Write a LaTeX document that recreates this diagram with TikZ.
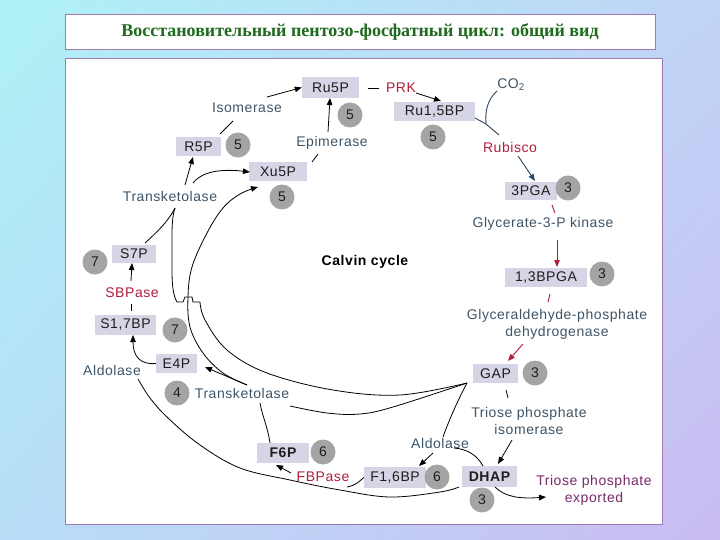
\documentclass[tikz,border=0pt]{standalone}
\usepackage{fontspec}
\setmainfont{Liberation Sans}
\newfontfamily\lbl[LetterSpace=4]{Liberation Sans}
\newfontfamily\ttlfont{Liberation Serif}
\usetikzlibrary{arrows.meta,shadings}
\definecolor{slate}{HTML}{3E5568}
\definecolor{enzred}{HTML}{B01E3C}
\definecolor{exppurple}{HTML}{7A2A6A}
\definecolor{boxc}{HTML}{D5D5E5}
\definecolor{circc}{HTML}{A4A4A4}
\definecolor{metc}{HTML}{1E1E1E}
\definecolor{ttlgreen}{HTML}{1E6B1E}
\definecolor{frame}{HTML}{A07AB0}
\definecolor{bgul}{HTML}{AEF2F6}
\definecolor{bgur}{HTML}{C0D4F6}
\definecolor{bgll}{HTML}{B8DEF8}
\definecolor{bglr}{HTML}{CABCF2}
\definecolor{rubc}{HTML}{2D4860}
\tikzset{
  lblfont/.style={font=\lbl\fontsize{14}{17}\selectfont},
  met/.style={lblfont, fill=boxc, inner sep=0pt, text=metc},
  num/.style={lblfont, circle, fill=circc, minimum size=25pt, inner sep=0pt, text=metc},
  enz/.style={lblfont, text=slate, inner sep=0pt, align=center},
  enzr/.style={lblfont, text=enzred, inner sep=0pt},
  con/.style={line width=0.8pt, black},
  arr/.style={con, -{Triangle[length=7pt,width=5.5pt]}},
  rarr/.style={line width=0.9pt, enzred, -{Triangle[length=7pt,width=5.5pt]}},
  rline/.style={line width=0.9pt, enzred},
}
\begin{document}
\begin{tikzpicture}[x=1pt,y=-1pt]
\useasboundingbox (0,0) rectangle (720,540);
\shade[upper left=bgul, upper right=bgur, lower left=bgll, lower right=bglr] (0,0) rectangle (720,540);
% frames
\draw[frame, fill=white, line width=0.8pt] (65,14) rectangle (655,49);
\node[font=\ttlfont\bfseries\fontsize{18}{21}\selectfont, text=ttlgreen] (title) at (360,32) {Восстановительный пентозо-фосфатный цикл: общий вид};
\draw[frame, fill=white, line width=0.8pt] (65,58) rectangle (662,524);

% metabolites
\node[met, minimum width=57pt, minimum height=21pt] (ru5p) at (330.5,87.5) {Ru5P};
\node[met, minimum width=81pt, minimum height=19pt] (rubp) at (434.5,111.5) {Ru1,5BP};
\node[met, minimum width=52pt, minimum height=18pt] (pga) at (531,191) {3PGA};
\node[met, minimum width=82pt, minimum height=19pt] (bpga) at (546,277.5) {1,3BPGA};
\node[met, minimum width=45pt, minimum height=19pt] (gap) at (495.5,373.5) {GAP};
\node[met, minimum width=55pt, minimum height=21pt, font=\lbl\bfseries\fontsize{14}{17}\selectfont] (dhap) at (489.5,476.5) {DHAP};
\node[met, minimum width=62pt, minimum height=21pt] (fbp) at (395,477.5) {F1,6BP};
\node[met, minimum width=52pt, minimum height=20pt, font=\lbl\bfseries\fontsize{14}{17}\selectfont] (f6p) at (283,453) {F6P};
\node[met, minimum width=41pt, minimum height=19pt] (e4p) at (176.5,363.5) {E4P};
\node[met, minimum width=61pt, minimum height=20pt] (sbp) at (125.5,325) {S1,7BP};
\node[met, minimum width=44pt, minimum height=18pt] (s7p) at (134,254) {S7P};
\node[met, minimum width=45pt, minimum height=19pt] (r5p) at (198.5,146.5) {R5P};
\node[met, minimum width=58pt, minimum height=19pt] (xu5p) at (278,171.5) {Xu5P};

% stoichiometry circles
\node[num] (n1) at (350,115) {5};
\node[num] (n2) at (433,137) {5};
\node[num] (n3) at (568,188) {3};
\node[num] (n4) at (602,274) {3};
\node[num] (n5) at (535,373) {3};
\node[num] (n6) at (482,500) {3};
\node[num] (n7) at (437,477) {6};
\node[num] (n8) at (323,452) {6};
\node[num] (n9) at (177,393) {4};
\node[num] (n10) at (175,330) {7};
\node[num] (n11) at (95,262) {7};
\node[num] (n12) at (238,145) {5};
\node[num] (n13) at (282,197) {5};

% enzyme labels
\node[enz] (iso) at (247,108) {Isomerase};
\node[enz] (epi) at (332,143) {Epimerase};
\node[enzr] (prk) at (401,88) {PRK};
\node[enz] (co2) at (511,85) {CO\textsubscript{2}};
\node[enzr] (rub) at (510,147) {Rubisco};
\node[enz] (pgk) at (543,224) {Glycerate-3-P kinase};
\node[enz] (gapdh) at (557,324) {Glyceraldehyde-phosphate\\dehydrogenase};
\node[enz] (tpi) at (529,421) {Triose phosphate\\isomerase};
\node[enz, text=exppurple] (exp) at (594,490) {Triose phosphate\\exported};
\node[enz] (aldb) at (440,443) {Aldolase};
\node[enzr] (fbpase) at (323,477) {FBPase};
\node[enz] (tkl) at (242,393) {Transketolase};
\node[enz] (aldl) at (112,370) {Aldolase};
\node[enzr] (sbpase) at (132,293) {SBPase};
\node[enz] (tku) at (170,196) {Transketolase};
\node[lblfont, font=\lbl\bfseries\fontsize{14}{17}\selectfont, text=black] (calvin) at (365,262) {Calvin cycle};

% junction coordinates
\coordinate (gapL) at (467,383);
\coordinate (tkuB) at (175,208);
\coordinate (tklT) at (247,385);
\coordinate (rubJ) at (486,124);

% Isomerase / Epimerase
\draw[con] (220,134) -- (233,121);
\draw[arr] (267,97) -- (ru5p.west);
\draw[con] (312,162) -- (318,154);
\draw[arr] (328,132) -- (330,98);

% PRK
\draw[con] (368,88) -- (379,88);
\draw[arr] (416,93) -- (441,101);

% Rubisco + CO2
\draw[rubc, line width=0.9pt] (497,91) .. controls (487,100) and (485,112) .. (rubJ);
\draw[rubc, line width=0.9pt] (475,118) -- (rubJ) -- (499,135);
\draw[rubc, line width=0.9pt, -{Triangle[length=7pt,width=5.5pt]}] (518,156) -- (535,181);

% 3PGA -> 1,3BPGA -> GAP
\draw[rline] (552,205) -- (555,213);
\draw[rarr] (557,240) -- (557,267);
\draw[rline] (550,294) -- (548,302);
\draw[rarr] (523,344) -- (508,361);

% TPI
\draw[con] (506,390) -- (508,398);
\draw[arr] (512,440) -- (498,464);

% export
\draw[arr] (495,487) .. controls (505,497) and (520,499) .. (546,497);

% bottom aldolase
\draw[con] (gapL) .. controls (458,400) and (449,420) .. (443,437);
\draw[con] (483,466) .. controls (477,455) and (467,449) .. (454,448);
\draw[arr] (433,453) -- (419,466);

% FBPase
\draw[con] (fbp.west) .. controls (359,482) and (354,486) .. (347,487);
\draw[arr] (291,473) -- (276,465);

% F6P -> lower transketolase
\draw[con] (270,443) .. controls (268,428) and (262,415) .. (260,403);

% GAP -> lower transketolase
\draw[con] plot[smooth, tension=0.6] coordinates {(gapL) (393,407) (360,414) (327,413) (290,406)};

% lower transketolase -> E4P
\draw[arr] (tklT) -- (205,367);

% lower transketolase -> Xu5P
\draw[arr] plot[smooth, tension=0.6] coordinates {(tklT) (223,373) (203,353) (190,327) (188,297) (192,267) (207,233) (223,208) (240,194) (258,187)};

% GAP -> upper transketolase (with hop)
\draw[con] plot[smooth, tension=0.6] coordinates {(gapL) (400,395) (333,390) (267,373) (227,350) (205,320) (200,302)};
\draw[con] (200,302) -- (193,302) -- (192,297) -- (185,297) -- (183,302) -- (177,302)
  .. controls (173,295) and (172,285) .. (172,270) -- (172,235) .. controls (172,222) and (173,214) .. (tkuB);

% S7P -> upper transketolase
\draw[con] (145,243) .. controls (156,233) and (168,222) .. (tkuB);

% upper transketolase -> R5P, Xu5P
\draw[arr] (185,185) -- (193,157);
\draw[arr] (193,183) .. controls (200,174) and (215,168) .. (250,172);

% SBPase
\draw[con] (131,311) -- (131,304);
\draw[arr] (131,281) -- (132,263);

% E4P -> S1,7BP (aldolase)
\draw[arr] (e4p.west) .. controls (140,365) and (133,356) .. (133,335);

% DHAP -> left aldolase
\draw[con] plot[smooth, tension=0.6] coordinates {(459,487) (440,492) (390,497) (340,490) (290,480) (240,468) (200,445) (168,418) (150,398) (138,379)};
\end{tikzpicture}
\end{document}
